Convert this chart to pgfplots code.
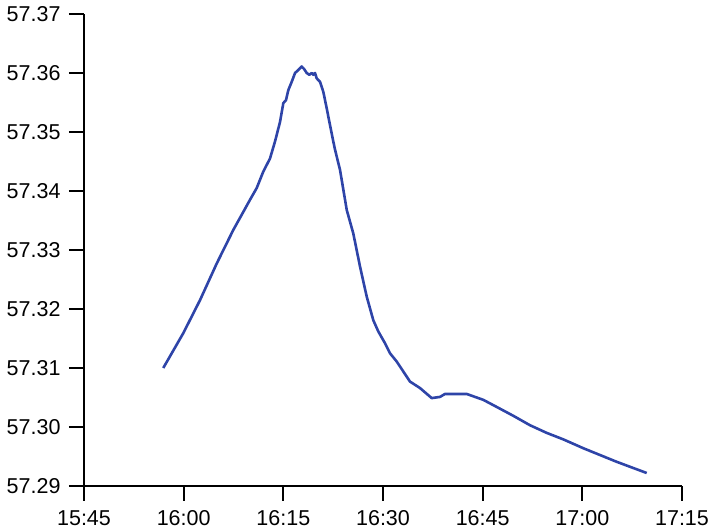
\documentclass[border=0pt]{standalone}
\usepackage{fontspec}
\setmainfont{Liberation Sans}
\usepackage{pgfplots}
\pgfplotsset{compat=1.18}
\definecolor{trace}{RGB}{46,68,168}

\begin{document}
\begin{tikzpicture}
\useasboundingbox (-84pt,-46pt) rectangle (626pt,486pt);
\begin{axis}[
  at={(0,0)}, anchor=south west,
  scale only axis,
  width=598pt, height=472pt,
  xmin=0, xmax=90,
  ymin=57.29, ymax=57.37,
  axis x line=bottom, axis y line=left,
  axis line style={-, line width=2.2pt, black},
  xtick={0,15,30,45,60,75,90},
  xticklabels={15:45,16:00,16:15,16:30,16:45,17:00,17:15},
  ytick={57.29,57.30,57.31,57.32,57.33,57.34,57.35,57.36,57.37},
  xticklabel style={yshift=-6pt},
  yticklabel style={xshift=-5pt, /pgf/number format/.cd, fixed, fixed zerofill, precision=2, assume math mode=true},
  ticklabel style={font=\fontsize{21.5}{24}\selectfont},
  xtick style={line width=2.2pt, black},
  ytick style={line width=2.2pt, black},
  tick align=outside,
  major tick length=15pt,
  clip=false,
]
\addplot[trace, line width=2.6pt, line join=round] coordinates {
(11.93,57.3100) (14.94,57.3159) (17.46,57.3215) (19.97,57.3277) (22.47,57.3334)
(24.98,57.3385) (25.99,57.3405) (26.99,57.3433) (27.99,57.3455) (28.75,57.3484)
(29.50,57.3517) (30.00,57.3549) (30.40,57.3554) (30.75,57.3571) (31.26,57.3585)
(31.76,57.3600) (32.25,57.3605) (32.76,57.3611) (33.11,57.3607) (33.52,57.3600)
(33.91,57.3597) (34.27,57.3600) (34.51,57.3597) (34.77,57.3600) (35.02,57.3591)
(35.52,57.3585) (36.02,57.3568) (36.53,57.3540) (37.02,57.3512) (37.52,57.3484)
(37.78,57.3470) (38.53,57.3436) (39.54,57.3368) (40.53,57.3328) (41.54,57.3272)
(42.55,57.3221) (43.54,57.3181) (44.29,57.3162) (45.30,57.3142) (46.05,57.3125)
(47.06,57.3111) (48.06,57.3094) (49.06,57.3077) (50.57,57.3066) (52.33,57.3049)
(53.58,57.3051) (54.33,57.3056) (57.60,57.3056) (58.85,57.3051) (60.10,57.3046)
(62.11,57.3034) (64.61,57.3019) (67.12,57.3003) (69.64,57.2990) (72.14,57.2979)
(75.15,57.2964) (80.17,57.2941) (84.69,57.2922)
};
\end{axis}
\end{tikzpicture}
\end{document}
